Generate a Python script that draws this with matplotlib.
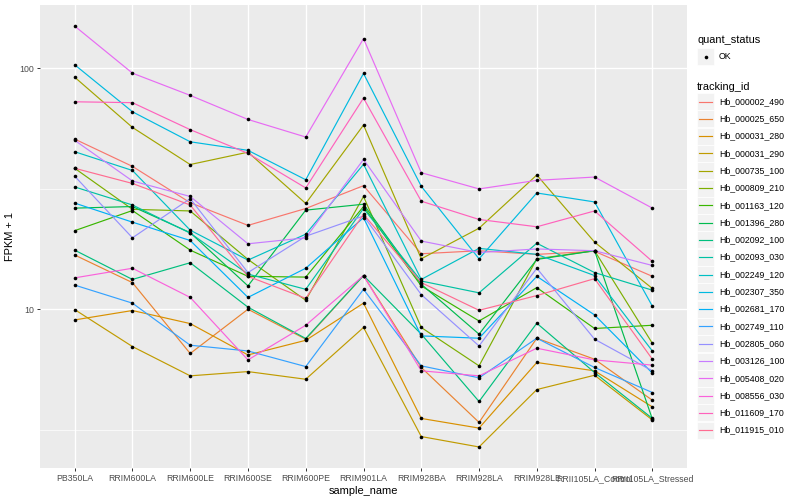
import matplotlib
matplotlib.use("Agg")
import matplotlib.pyplot as plt
from matplotlib.patches import Rectangle
from matplotlib.lines import Line2D
from matplotlib.ticker import FixedLocator, NullFormatter

plt.rcParams['font.family'] = ['Liberation Sans', 'DejaVu Sans']

samples = ['PB350LA', 'RRIM600LA', 'RRIM600LE', 'RRIM600SE', 'RRIM600PE', 'RRIM901LA',
           'RRIM928BA', 'RRIM928LA', 'RRIM928LE', 'RRII105LA_Control', 'RRII105LA_Stressed']

tracking_ids = ['Hb_000002_490', 'Hb_000025_650', 'Hb_000031_280', 'Hb_000031_290',
                'Hb_000735_100', 'Hb_000809_210', 'Hb_001163_120', 'Hb_001396_280',
                'Hb_002092_100', 'Hb_002093_030', 'Hb_002249_120', 'Hb_002307_350',
                'Hb_002681_170', 'Hb_002749_110', 'Hb_002805_060', 'Hb_003126_100',
                'Hb_005408_020', 'Hb_008556_030', 'Hb_011609_170', 'Hb_011915_010']

# FPKM + 1 per sample
hb_000002_490 = [50.9, 39.2, 27.7, 22.3, 26.2, 32.6, 17.0, 17.5, 16.9, 17.4, 13.7]
hb_000025_650 = [16.8, 12.9, 6.55, 10.0, 7.51, 13.8, 5.73, 3.39, 7.58, 6.20, 4.19]
hb_000031_280 = [9.03, 9.88, 8.72, 6.46, 7.43, 10.6, 3.52, 3.21, 6.01, 5.55, 3.93]
hb_000031_290 = [9.97, 7.00, 5.29, 5.51, 5.12, 8.40, 2.96, 2.68, 4.64, 5.32, 3.47]
hb_000735_100 = [92.0, 56.9, 39.9, 44.9, 27.5, 58.2, 16.2, 21.7, 36.1, 19.0, 12.2]
hb_000809_210 = [38.5, 26.0, 25.6, 16.1, 10.9, 29.4, 8.40, 5.82, 16.2, 17.5, 7.22]
hb_001163_120 = [21.2, 25.7, 17.6, 13.7, 13.6, 26.7, 12.5, 8.94, 12.3, 8.32, 8.58]
hb_001396_280 = [26.3, 26.7, 20.8, 12.5, 25.8, 27.3, 12.7, 7.88, 16.1, 17.5, 3.50]
hb_002092_100 = [17.6, 13.3, 15.6, 10.2, 7.56, 13.8, 7.88, 4.14, 8.75, 5.46, 3.52]
hb_002093_030 = [32.2, 27.1, 20.7, 14.0, 12.1, 26.2, 13.1, 11.7, 18.8, 14.2, 12.0]
hb_002249_120 = [45.1, 37.7, 21.3, 16.0, 20.5, 40.0, 13.3, 17.9, 16.9, 13.8, 6.71]
hb_002307_350 = [103.6, 66.1, 49.6, 45.7, 34.5, 95.3, 32.4, 16.2, 30.4, 27.9, 10.3]
hb_002681_170 = [27.6, 23.0, 19.3, 11.2, 14.8, 24.0, 7.75, 7.58, 13.7, 9.47, 5.43]
hb_002749_110 = [12.6, 10.6, 7.09, 6.71, 5.78, 12.1, 5.82, 5.19, 7.58, 5.73, 4.51]
hb_002805_060 = [35.7, 19.8, 28.8, 14.2, 20.1, 24.4, 11.5, 7.04, 14.8, 7.51, 5.55]
hb_003126_100 = [50.3, 34.1, 29.4, 18.7, 19.8, 41.9, 19.2, 17.2, 17.8, 17.5, 15.2]
hb_005408_020 = [150.0, 95.6, 77.3, 61.4, 51.9, 133.0, 36.9, 31.6, 34.3, 35.4, 26.3]
hb_008556_030 = [13.5, 14.8, 11.2, 6.16, 8.58, 13.8, 5.55, 5.29, 6.89, 6.16, 5.86]
hb_011609_170 = [72.7, 72.1, 55.7, 44.4, 31.9, 75.3, 28.1, 23.6, 22.0, 25.6, 15.8]
hb_011915_010 = [38.5, 33.3, 27.1, 13.7, 11.1, 24.8, 12.9, 9.9, 11.4, 13.4, 6.20]

series = [hb_000002_490, hb_000025_650, hb_000031_280, hb_000031_290, hb_000735_100,
          hb_000809_210, hb_001163_120, hb_001396_280, hb_002092_100, hb_002093_030,
          hb_002249_120, hb_002307_350, hb_002681_170, hb_002749_110, hb_002805_060,
          hb_003126_100, hb_005408_020, hb_008556_030, hb_011609_170, hb_011915_010]

# ggplot hue palette, 20 levels
colors = ['#F8766D', '#EA8331', '#D89000', '#C09B00', '#A3A500', '#7CAE00', '#39B600',
          '#00BB4E', '#00BF7D', '#00C1A3', '#00BFC4', '#00BAE0', '#00B0F6', '#35A2FF',
          '#9590FF', '#C77CFF', '#E76BF3', '#FA62DB', '#FF62BC', '#FF6C91']

W, H = 800, 500
fig = plt.figure(figsize=(W / 100, H / 100), dpi=100)
ax = fig.add_axes([40 / W, 1 - 468 / H, (687 - 40) / W, (468 - 5) / H])
ax.set_facecolor('#EBEBEB')

x = list(range(len(samples)))
for vals, col in zip(series, colors):
    ax.plot(x, vals, color=col, lw=0.85, zorder=2)
for vals in series:
    ax.plot(x, vals, 'o', color='black', ms=2.6, mew=0, zorder=3)

ax.set_yscale('log')
ax.margins(y=0.05)
ax.set_xlim(-0.6, len(samples) - 0.4)
ax.yaxis.set_major_locator(FixedLocator([10, 100]))
ax.yaxis.set_minor_locator(FixedLocator([10 ** 0.5, 10 ** 1.5]))
ax.yaxis.set_minor_formatter(NullFormatter())
ax.set_yticklabels(['10', '100'])
ax.set_xticks(x)
ax.set_xticklabels(samples)

ax.grid(True, which='major', color='white', lw=1.0, zorder=0)
ax.grid(True, which='minor', axis='y', color='white', lw=0.5, zorder=0)
ax.set_axisbelow(True)
for s in ax.spines.values():
    s.set_visible(False)
ax.tick_params(axis='both', which='major', length=2.5, width=0.7, color='#333333',
               labelsize=6.3, labelcolor='#4D4D4D', pad=2)
ax.tick_params(axis='y', which='minor', length=0)
ax.set_xlabel('sample_name', fontsize=7.9, labelpad=2)
ax.set_ylabel('FPKM + 1', fontsize=7.9, labelpad=3)


def fx(px):
    return px / W


def fy(py):
    return 1 - py / H


# legend: quant_status
fig.text(fx(697), fy(40), 'quant_status', fontsize=7.9, va='center', ha='left')
fig.patches.append(Rectangle((fx(697), fy(65)), 17 / W, 17 / H, transform=fig.transFigure,
                             facecolor='#F2F2F2', edgecolor='white', lw=0.5))
fig.lines.append(Line2D([fx(705.5)], [fy(56.5)], transform=fig.transFigure,
                        marker='o', color='black', ms=2.6, mew=0))
fig.text(fx(719), fy(56.5), 'OK', fontsize=6.3, va='center', ha='left')

# legend: tracking_id
fig.text(fx(697), fy(87), 'tracking_id', fontsize=7.9, va='center', ha='left')
step = 17.3
for i, (tid, col) in enumerate(zip(tracking_ids, colors)):
    cy = 101.5 + i * step
    fig.patches.append(Rectangle((fx(697), fy(cy + 8.5)), 17 / W, 17 / H,
                                 transform=fig.transFigure, facecolor='#F2F2F2',
                                 edgecolor='white', lw=0.5))
    fig.lines.append(Line2D([fx(699), fx(712)], [fy(cy), fy(cy)], transform=fig.transFigure,
                            color=col, lw=0.85))
    fig.text(fx(719), fy(cy), tid, fontsize=6.3, va='center', ha='left')

fig.savefig('out.png', dpi=100)
